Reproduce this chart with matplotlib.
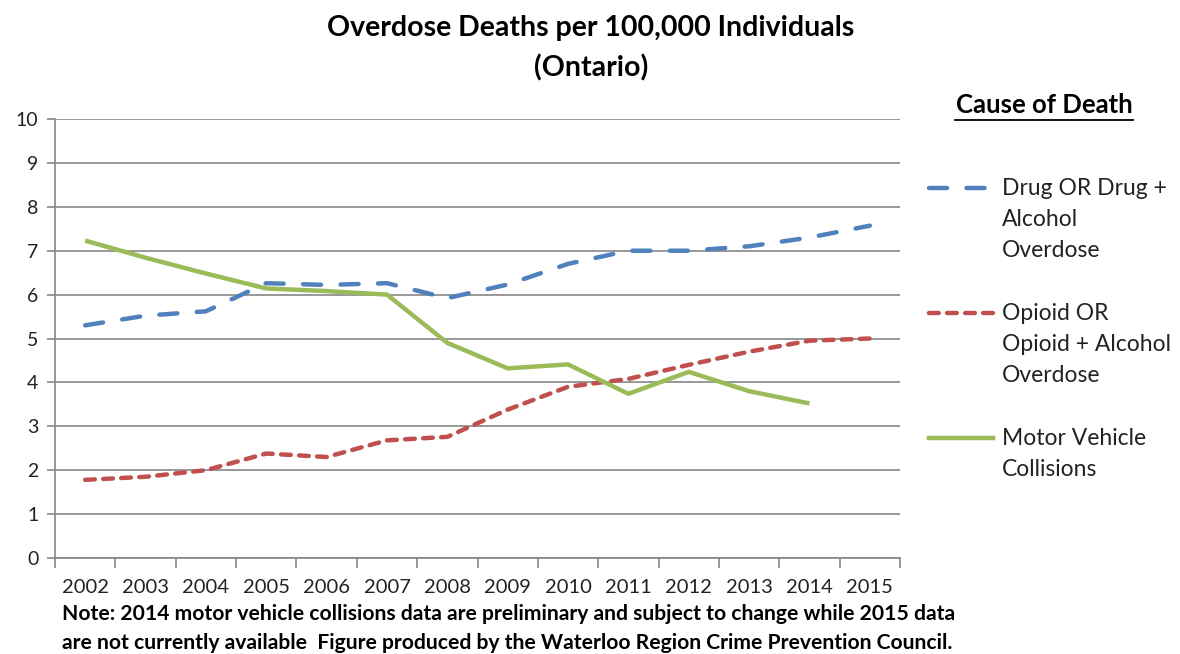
import matplotlib
matplotlib.use("Agg")
import matplotlib.pyplot as plt
from matplotlib.lines import Line2D

years = ["2002", "2003", "2004", "2005", "2006", "2007", "2008",
         "2009", "2010", "2011", "2012", "2013", "2014", "2015"]
drug = [5.30, 5.52, 5.62, 6.26, 6.22, 6.26, 5.92, 6.23, 6.70, 7.00, 7.00, 7.10, 7.30, 7.57]
opioid = [1.78, 1.85, 2.00, 2.38, 2.30, 2.68, 2.76, 3.38, 3.90, 4.08, 4.40, 4.70, 4.95, 5.00]
motor = [7.23, 6.84, 6.48, 6.14, 6.08, 6.00, 4.90, 4.32, 4.41, 3.74, 4.24, 3.80, 3.52]

series_names = ["Drug OR Drug +\nAlcohol\nOverdose",
                "Opioid OR\nOpioid + Alcohol\nOverdose",
                "Motor Vehicle\nCollisions"]
colors = ["#4F81BD", "#C0504D", "#9BBB59"]
dash_styles = [(0, (13, 14)), (0, (7, 6)), "-"]

plt.rcParams["font.family"] = ["Lato", "DejaVu Sans"]
plt.rcParams["lines.scale_dashes"] = False

W, H = 1180, 654
fig = plt.figure(figsize=(W / 100, H / 100), dpi=100)
ax = fig.add_axes([55 / W, 1 - 558 / H, (900 - 55) / W, (558 - 119) / H])

x = list(range(len(years)))
for vals, c, ls in zip([drug, opioid, motor], colors, dash_styles):
    ax.plot(x[:len(vals)], vals, color=c, lw=3.2, linestyle=ls,
            dash_capstyle="round", solid_capstyle="butt")

ax.set_xlim(-0.5, len(years) - 0.5)
ax.set_ylim(0, 10)
ax.set_yticks(range(0, 11))
ax.set_xticks(x)
ax.set_xticklabels(years)
ax.set_xticks([i - 0.5 for i in range(len(years) + 1)], minor=True)
ax.tick_params(axis="x", which="major", length=0, pad=15, labelsize=14.5, colors="#222222")
ax.tick_params(axis="x", which="minor", length=7, width=1.2, color="#868686")
ax.tick_params(axis="y", length=6, width=1.2, color="#868686", labelsize=14,
               labelcolor="#222222", pad=6)
ax.grid(axis="y", color="#868686", lw=1.2)
ax.set_axisbelow(True)
for s in ["top", "right"]:
    ax.spines[s].set_visible(False)
for s in ["left", "bottom"]:
    ax.spines[s].set_color("#868686")
    ax.spines[s].set_linewidth(1.2)

fig.text(591 / W, 1 - 28 / H, "Overdose Deaths per 100,000 Individuals",
         ha="center", va="center", fontsize=20.5, fontweight="bold")
fig.text(591 / W, 1 - 68 / H, "(Ontario)",
         ha="center", va="center", fontsize=20.5, fontweight="bold")

# legend, drawn by hand so the handle sits on the first text line
fig.text(1044 / W, 1 - 105 / H, "Cause of Death", ha="center", va="center",
         fontsize=18.5, fontweight="bold")
fig.add_artist(Line2D([955 / W, 1133 / W], [1 - 120 / H, 1 - 120 / H],
                      color="black", lw=1.3))
legend_y = [188, 313, 438]
for name, c, ls, yy in zip(series_names, colors, dash_styles, legend_y):
    fig.add_artist(Line2D([929 / W, 993 / W], [1 - yy / H, 1 - yy / H], color=c,
                          lw=3.2, linestyle=ls, dash_capstyle="round"))
    fig.text(1002 / W, 1 - (yy - 10) / H, name, ha="left", va="top",
             fontsize=16.5, linespacing=1.6, color="#222222")

fig.text(62 / W, 1 - 614 / H,
         "Note: 2014 motor vehicle collisions data are preliminary and subject to change while 2015 data",
         ha="left", va="center", fontsize=15.2, fontweight="bold")
fig.text(62 / W, 1 - 643 / H,
         "are not currently available  Figure produced by the Waterloo Region Crime Prevention Council.",
         ha="left", va="center", fontsize=15.2, fontweight="bold")

fig.savefig("out.png", dpi=100)
